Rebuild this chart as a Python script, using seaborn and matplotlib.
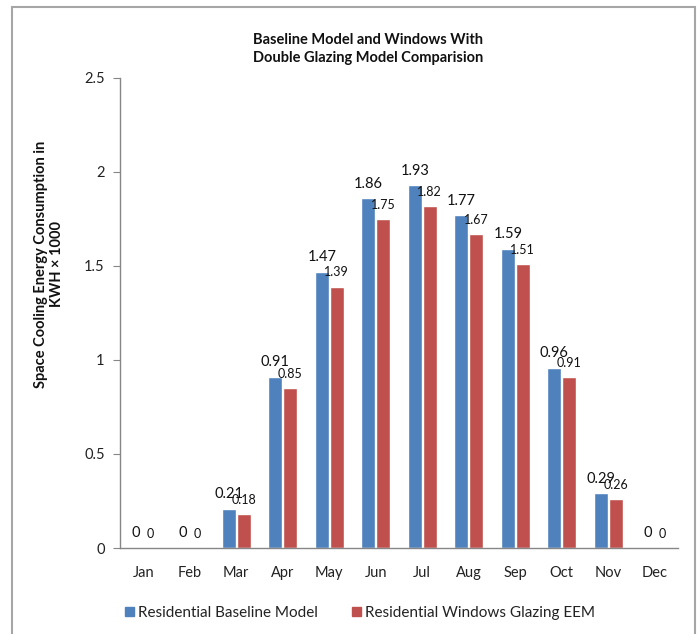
import matplotlib
matplotlib.use("Agg")
import matplotlib.pyplot as plt
import seaborn as sns
import pandas as pd
from matplotlib.patches import Rectangle, Patch

months = ["Jan", "Feb", "Mar", "Apr", "May", "Jun", "Jul", "Aug", "Sep", "Oct", "Nov", "Dec"]
baseline = [0, 0, 0.21, 0.91, 1.47, 1.86, 1.93, 1.77, 1.59, 0.96, 0.29, 0]
eem = [0, 0, 0.18, 0.85, 1.39, 1.75, 1.82, 1.67, 1.51, 0.91, 0.26, 0]
series_names = ["Residential Baseline Model", "Residential Windows Glazing EEM"]
colors = ["#4F81BD", "#C0504D"]
yticks = [0, 0.5, 1, 1.5, 2, 2.5]
ytick_labels = ["0", "0.5", "1", "1.5", "2", "2.5"]

df = pd.DataFrame({
    "Month": months * 2,
    "Value": baseline + eem,
    "Series": [series_names[0]] * len(months) + [series_names[1]] * len(months),
})

sns.set_style("white")
plt.rcParams["font.family"] = ["Lato", "DejaVu Sans"]

W, H = 698, 634
fig = plt.figure(figsize=(W / 100, H / 100), dpi=100)
ax = fig.add_axes([120 / W, 1 - 548 / H, (678 - 120) / W, (548 - 78) / H])

sns.barplot(data=df, x="Month", y="Value", hue="Series", palette=colors,
            width=0.64, gap=0.08, saturation=1, ax=ax, legend=False)

ax.set_ylim(0, 2.5)
ax.set_xlim(-0.5, 11.5)
ax.set_yticks(yticks)
ax.set_yticklabels(ytick_labels)
ax.set_xlabel("")
ax.set_ylabel("")
for s in ["top", "right"]:
    ax.spines[s].set_visible(False)
for s in ["left", "bottom"]:
    ax.spines[s].set_color("#868686")
    ax.spines[s].set_linewidth(1)
ax.tick_params(axis="y", length=5, color="#868686", direction="out", left=True,
               labelsize=10.5, labelcolor="#222222", pad=6)
ax.tick_params(axis="x", length=0, labelsize=10.5, labelcolor="#222222", pad=13)

def fmt(v):
    return "0" if v == 0 else f"{v:.2f}"

ax.bar_label(ax.containers[0], labels=[fmt(v) for v in baseline], padding=5.5,
             fontsize=10.5, color="#111111")
ax.bar_label(ax.containers[1], labels=[fmt(v) for v in eem], padding=6,
             fontsize=9, color="#111111")

fig.text(368 / W, 1 - 49 / H, "Baseline Model and Windows With\nDouble Glazing Model Comparision",
         ha="center", va="center", fontsize=10.5, fontweight="bold", color="#111111",
         linespacing=1.35)
fig.text(49 / W, 1 - 264 / H, "Space Cooling Energy Consumption in\nKWH \u00d7 1000",
         ha="center", va="center", rotation=90, fontsize=10.5, fontweight="bold",
         color="#111111", linespacing=1.2)

handles = [Patch(facecolor=c, edgecolor=c) for c in colors]
fig.legend(handles, series_names, loc="center", bbox_to_anchor=(360 / W, 1 - 613 / H),
           ncol=2, frameon=False, fontsize=11, handlelength=0.6, handleheight=0.6,
           handletextpad=0.3, columnspacing=2.2, labelcolor="#222222")

fig.patches.append(Rectangle((12 / W, -0.05), (695 - 12) / W, 1.05 - 7 / H,
                             transform=fig.transFigure, fill=False,
                             edgecolor="#A6A6A6", linewidth=1.5))

fig.savefig("out.png", dpi=100, facecolor="white")
